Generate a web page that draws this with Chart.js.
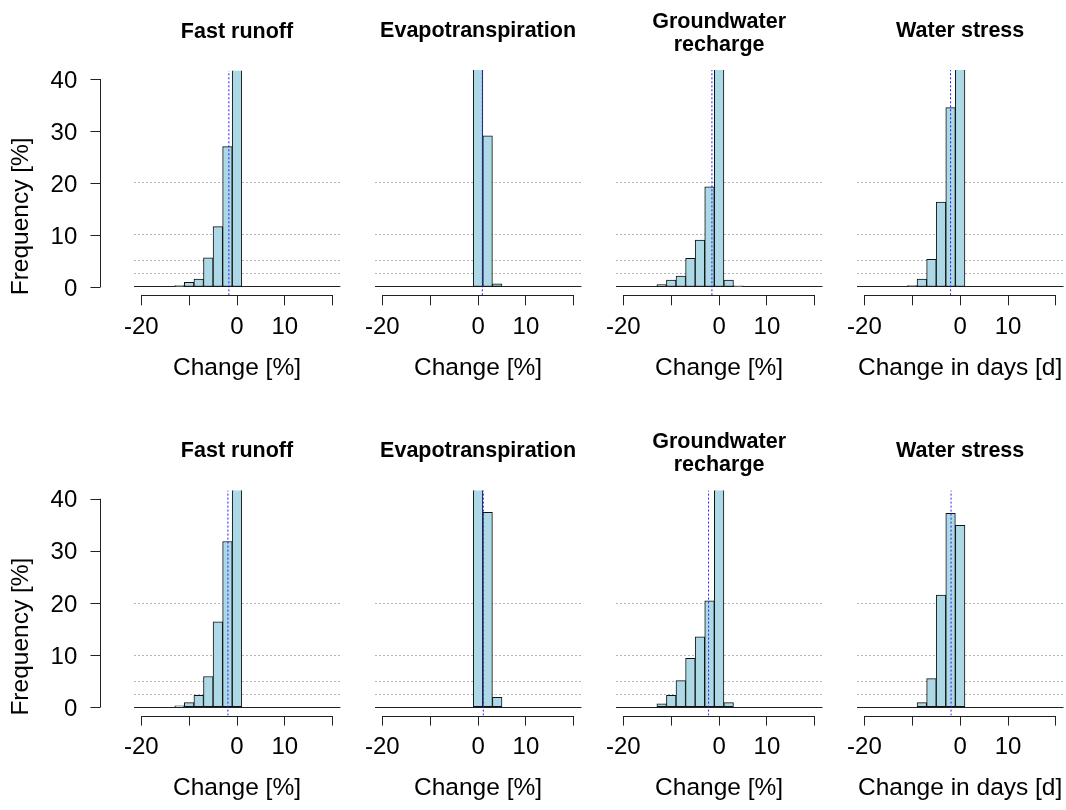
<!DOCTYPE html>
<html>
<head>
<meta charset="utf-8">
<title>Histograms of change</title>
<script src="https://cdn.jsdelivr.net/npm/chart.js@4.4.0/dist/chart.umd.min.js"></script>
<style>
  body { margin: 0; background: #fff; }
  #page { position: relative; width: 1066px; height: 810px; background: #fff; }
  #page canvas { position: absolute; left: 0; top: 0; }
</style>
</head>
<body>
<div id="page"></div>
<script>

// ---- data ----
const panelTitles = [['Fast runoff'], ['Evapotranspiration'], ['Groundwater', 'recharge'], ['Water stress']];
const xAxisTitles = ['Change [%]', 'Change [%]', 'Change [%]', 'Change in days [d]'];
const yAxisTitle = 'Frequency [%]';

const xTicks = [-20, -10, 0, 10, 20];
const xTickLabels = [-20, 0, 10];
const yTicks = [0, 10, 20, 30, 40];
const refLines = [2.5, 5, 10, 20];

// bin centres (bins are 2 wide) and frequency [%], upper row
const runoffBinsA = [-12, -10, -8, -6, -4, -2, 0];
const runoffFreqA = [0.26, 0.9, 1.5, 5.6, 11.6, 27.0, 53.2];
const evapBinsA = [0, 2, 4];
const evapFreqA = [70.4, 29.0, 0.6];
const rechargeBinsA = [-12, -10, -8, -6, -4, -2, 0, 2, 4];
const rechargeFreqA = [0.45, 1.3, 2.1, 5.5, 9.0, 19.2, 61.0, 1.3, 0.2];
const stressBinsA = [-10, -8, -6, -4, -2, 0];
const stressFreqA = [0.26, 1.5, 5.3, 16.3, 34.4, 42.2];
const meansA = [-1.7, 0.9, -1.5, -2.0];

// lower row
const runoffBinsB = [-12, -10, -8, -6, -4, -2, 0];
const runoffFreqB = [0.26, 0.9, 2.3, 5.9, 16.4, 31.8, 42.4];
const evapBinsB = [0, 2, 4];
const evapFreqB = [60.7, 37.4, 1.9];
const rechargeBinsB = [-12, -10, -8, -6, -4, -2, 0, 2];
const rechargeFreqB = [0.64, 2.3, 5.1, 9.4, 13.5, 20.4, 47.8, 0.9];
const stressBinsB = [-8, -6, -4, -2, 0];
const stressFreqB = [0.9, 5.5, 21.5, 37.2, 34.9];
const meansB = [-1.9, 1.1, -2.2, -1.9];

// ---- layout (pixels) ----
const PAGE_W = 1066, PAGE_H = 810;
const COL_X0 = 237, COL_STEP = 241.05, HALF_W = 103.4;
const ROW_TOP0 = 70.1, ROW_STEP = 420.3, PLOT_H = 225.2;
const X_LIM = 21.6, Y_MIN = -1.6, Y_MAX = 41.6;
const TICK_FONT = 24, LAB_FONT = 24.5;
const X_SCALE_H = 87.7;
const Y_SCALE_W = 126.7;
const Y_AXIS_GAP = 34.1;
const Y_LABEL_RIGHT = 77.3;
const TICK_LEN = 10;
const TITLE_LH = 23, TITLE_Y1 = 31, TITLE_Y2 = 22;

const BAR_FILL = '#ADD8E6';
const BAR_EDGE = '#111';
const AXIS_COLOR = '#222';
const GRID_COLOR = '#b4b4b4';
const MEAN_COLOR = '#1f1fff';

Chart.defaults.font.family = "'Liberation Sans', Arial, sans-serif";
Chart.defaults.color = '#000';

let rows = [
    [
        {bins: runoffBinsA, freq: runoffFreqA, mean: meansA[0]},
        {bins: evapBinsA, freq: evapFreqA, mean: meansA[1]},
        {bins: rechargeBinsA, freq: rechargeFreqA, mean: meansA[2]},
        {bins: stressBinsA, freq: stressFreqA, mean: meansA[3]}
    ],
    [
        {bins: runoffBinsB, freq: runoffFreqB, mean: meansB[0]},
        {bins: evapBinsB, freq: evapFreqB, mean: meansB[1]},
        {bins: rechargeBinsB, freq: rechargeFreqB, mean: meansB[2]},
        {bins: stressBinsB, freq: stressFreqB, mean: meansB[3]}
    ]
];

// R style axes: x line only between first and last tick, y axis pulled away from the plot
let rAxes = {
    id: 'rAxes',
    afterDraw(chart, args, opts) {
        let ctx = chart.ctx;
        let area = chart.chartArea;
        let x = chart.scales.x;
        let y = chart.scales.y;
        ctx.save();
        ctx.strokeStyle = AXIS_COLOR;
        ctx.lineWidth = 1;

        let yb = Math.round(area.bottom) + 0.5;
        ctx.beginPath();
        ctx.moveTo(x.getPixelForValue(xTicks[0]), yb);
        ctx.lineTo(x.getPixelForValue(xTicks[xTicks.length - 1]), yb);
        ctx.stroke();

        if (opts.showY) {
            let xa = Math.round(area.left - Y_AXIS_GAP) + 0.5;
            ctx.beginPath();
            ctx.moveTo(xa, y.getPixelForValue(yTicks[0]));
            ctx.lineTo(xa, y.getPixelForValue(yTicks[yTicks.length - 1]));
            yTicks.forEach(v => {
                let py = Math.round(y.getPixelForValue(v)) + 0.5;
                ctx.moveTo(xa, py);
                ctx.lineTo(xa - TICK_LEN, py);
            });
            ctx.stroke();
        }
        ctx.restore();
    }
};

function makePanel(row, col, panel) {
    let canvas = document.createElement('canvas');
    canvas.width = PAGE_W;
    canvas.height = PAGE_H;
    document.getElementById('page').appendChild(canvas);

    let left = COL_X0 + col * COL_STEP - HALF_W;
    let right = left + 2 * HALF_W;
    let top = ROW_TOP0 + row * ROW_STEP;
    let bottom = top + PLOT_H;
    let title = panelTitles[col];
    let firstLine = (title.length > 1 ? TITLE_Y2 : TITLE_Y1) + row * ROW_STEP;
    let padTop = firstLine - TITLE_LH / 2;
    let yWidth = col === 0 ? Y_SCALE_W : 0;
    let gridTicks = [...new Set(yTicks.concat(refLines))].sort((a, b) => a - b);

    return new Chart(canvas, {
        type: 'bar',
        data: {
            datasets: [
                {
                    type: 'line',
                    data: [{x: panel.mean, y: Y_MIN}, {x: panel.mean, y: Y_MAX}],
                    borderColor: MEAN_COLOR,
                    borderWidth: 1,
                    borderDash: [2, 2],
                    pointRadius: 0,
                    fill: false
                },
                {
                    data: panel.bins.map((b, i) => ({x: b, y: panel.freq[i]})),
                    backgroundColor: BAR_FILL,
                    borderColor: BAR_EDGE,
                    borderWidth: 1,
                    borderSkipped: false,
                    barPercentage: 1,
                    categoryPercentage: 1,
                    clip: 0
                }
            ]
        },
        plugins: [rAxes],
        options: {
            responsive: false,
            animation: false,
            events: [],
            layout: {
                padding: {
                    left: left - yWidth,
                    right: PAGE_W - right,
                    top: padTop,
                    bottom: PAGE_H - bottom - X_SCALE_H
                }
            },
            plugins: {
                legend: {display: false},
                tooltip: {enabled: false},
                title: {
                    display: true,
                    text: title,
                    fullSize: false,
                    color: '#000',
                    font: {size: 21.5, weight: 'bold', lineHeight: TITLE_LH / 21.5},
                    padding: {top: 0, bottom: top - padTop - title.length * TITLE_LH}
                },
                rAxes: {showY: col === 0}
            },
            scales: {
                x: {
                    type: 'linear',
                    min: -X_LIM,
                    max: X_LIM,
                    offset: false,
                    afterFit: s => { s.height = X_SCALE_H; },
                    afterBuildTicks: s => { s.ticks = xTicks.map(v => ({value: v})); },
                    grid: {
                        offset: false,
                        drawOnChartArea: false,
                        drawTicks: true,
                        tickLength: TICK_LEN,
                        color: AXIS_COLOR,
                        tickColor: AXIS_COLOR
                    },
                    border: {display: false},
                    ticks: {
                        autoSkip: false,
                        maxRotation: 0,
                        minRotation: 0,
                        padding: 7.5,
                        color: '#000',
                        font: {size: TICK_FONT},
                        callback: v => xTickLabels.includes(v) ? String(v) : ''
                    },
                    title: {
                        display: true,
                        text: xAxisTitles[col],
                        color: '#000',
                        font: {size: LAB_FONT},
                        padding: 0
                    }
                },
                y: {
                    type: 'linear',
                    min: Y_MIN,
                    max: Y_MAX,
                    z: 1,
                    afterFit: s => { s.width = yWidth; },
                    afterBuildTicks: s => { s.ticks = gridTicks.map(v => ({value: v})); },
                    grid: {
                        drawTicks: false,
                        lineWidth: 1,
                        color: c => {
                            if (!c.tick) return 'rgba(0,0,0,0)';
                            if (c.tick.value === 0) return AXIS_COLOR;
                            return refLines.includes(c.tick.value) ? GRID_COLOR : 'rgba(0,0,0,0)';
                        }
                    },
                    border: {
                        display: false,
                        dash: c => (c.tick && c.tick.value === 0) ? [] : [2, 2]
                    },
                    ticks: {
                        display: col === 0,
                        padding: left - Y_LABEL_RIGHT,
                        labelOffset: 2,
                        color: '#000',
                        font: {size: TICK_FONT},
                        callback: v => yTicks.includes(v) ? String(v) : ''
                    },
                    title: {
                        display: col === 0,
                        text: yAxisTitle,
                        align: 'start',
                        color: '#000',
                        font: {size: LAB_FONT},
                        padding: 0
                    }
                }
            }
        }
    });
}

rows.forEach((panels, r) => {
    panels.forEach((panel, c) => makePanel(r, c, panel));
});
</script>
</body>
</html>
